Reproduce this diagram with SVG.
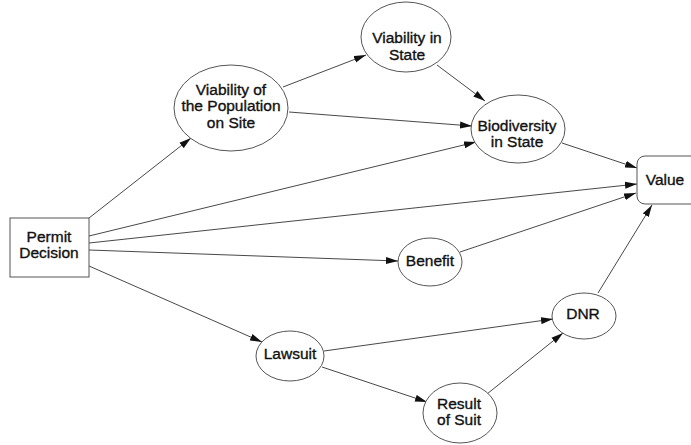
<svg xmlns="http://www.w3.org/2000/svg" width="691" height="445" viewBox="0 0 691 445">
<style>
.node{fill:#fff;stroke:#555;stroke-width:1}
.lbl{font-family:"Liberation Sans",Arial,sans-serif;font-size:15.5px;fill:#111;stroke:#111;stroke-width:0.35;text-anchor:middle}
.edge{stroke:#333;stroke-width:0.9;fill:none;marker-end:url(#arr)}
</style>
<defs>
<marker id="arr" markerWidth="13" markerHeight="8" refX="12" refY="4" orient="auto" markerUnits="userSpaceOnUse">
<path d="M0,0.5 L12,4 L0,7.5 Z" fill="#111"/>
</marker>
</defs>
<rect width="691" height="445" fill="#fff"/>
<g id="edges">
<line class="edge" x1="89" y1="218" x2="191" y2="138"/>
<line class="edge" x1="283" y1="87" x2="366" y2="55"/>
<line class="edge" x1="289" y1="112" x2="472" y2="126"/>
<line class="edge" x1="437" y1="65" x2="485" y2="101"/>
<line class="edge" x1="89" y1="236" x2="476" y2="142"/>
<line class="edge" x1="89" y1="243" x2="637" y2="184"/>
<line class="edge" x1="562" y1="143" x2="637" y2="168"/>
<line class="edge" x1="460" y1="252" x2="636" y2="193"/>
<line class="edge" x1="598" y1="293" x2="652" y2="205"/>
<line class="edge" x1="89" y1="250" x2="398" y2="261"/>
<line class="edge" x1="89" y1="266" x2="262" y2="342"/>
<line class="edge" x1="324" y1="351" x2="553" y2="319"/>
<line class="edge" x1="322" y1="367" x2="427" y2="402"/>
<line class="edge" x1="487" y1="394" x2="563" y2="333"/>
</g>
<g id="permit">
<rect class="node" x="10" y="218" width="79" height="59"/>
<text class="lbl" x="49" y="242">Permit</text>
<text class="lbl" x="49" y="258">Decision</text>
</g>
<g id="viabPop">
<ellipse class="node" cx="231" cy="108" rx="57" ry="43"/>
<text class="lbl" x="231" y="95">Viability of</text>
<text class="lbl" x="231" y="111">the Population</text>
<text class="lbl" x="231" y="128">on Site</text>
</g>
<g id="viabState">
<ellipse class="node" cx="406" cy="37" rx="45" ry="35"/>
<text class="lbl" x="407" y="43">Viability in</text>
<text class="lbl" x="407" y="60">State</text>
</g>
<g id="biodiv">
<ellipse class="node" cx="518" cy="129" rx="47" ry="34"/>
<text class="lbl" x="517" y="131">Biodiversity</text>
<text class="lbl" x="517" y="147">in State</text>
</g>
<g id="value">
<rect class="node" x="637" y="156" width="70" height="48" rx="8"/>
<text class="lbl" x="665" y="185">Value</text>
</g>
<g id="benefit">
<ellipse class="node" cx="430" cy="262" rx="32" ry="24"/>
<text class="lbl" x="430" y="266">Benefit</text>
</g>
<g id="dnr">
<ellipse class="node" cx="584" cy="316" rx="32" ry="23"/>
<text class="lbl" x="583" y="319">DNR</text>
</g>
<g id="lawsuit">
<ellipse class="node" cx="290" cy="356" rx="34" ry="25"/>
<text class="lbl" x="290" y="359">Lawsuit</text>
</g>
<g id="result">
<ellipse class="node" cx="460" cy="413" rx="37" ry="30"/>
<text class="lbl" x="459" y="409">Result</text>
<text class="lbl" x="459" y="425">of Suit</text>
</g>
</svg>
